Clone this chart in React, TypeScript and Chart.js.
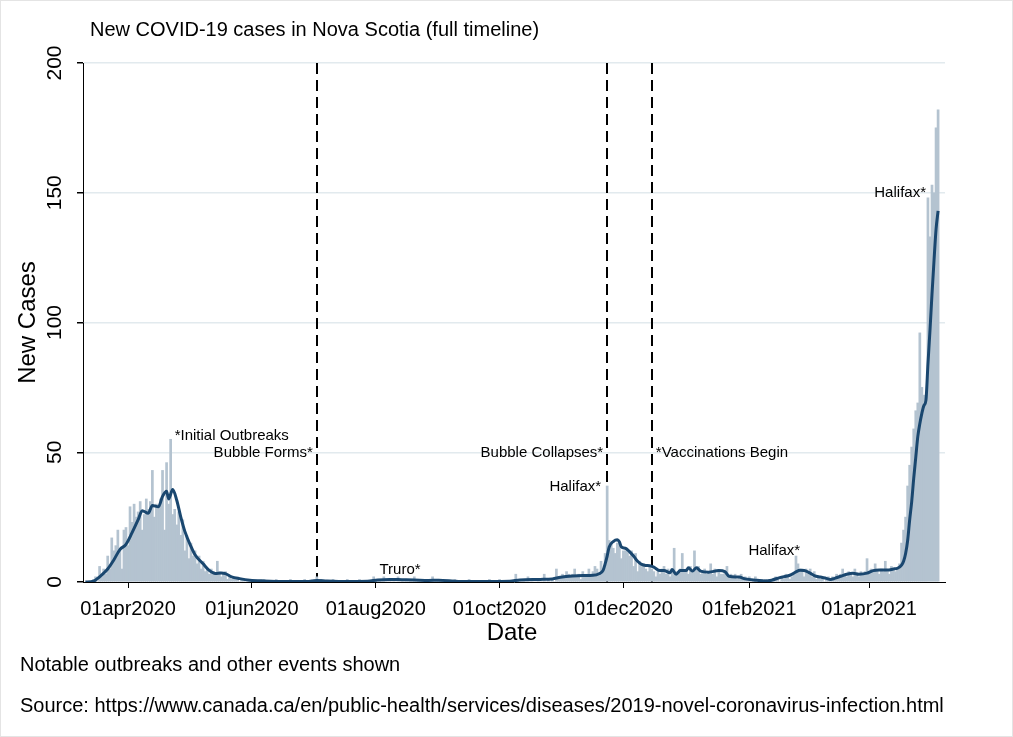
import React, { useEffect, useRef } from 'react';
import { Chart, registerables } from 'chart.js';

Chart.register(...registerables);

// ---------------- data ----------------
const START_DATE = '2020-03-15'; // date of dailyCases[0]

// New daily cases (one value per day from START_DATE)
const dailyCases: number[] = [
  1, 2, 0, 6, 2, 5, 3, 10, 5, 17,
  12, 14, 20, 13, 5, 20, 21, 14, 29, 23,
  30, 25, 27, 31, 20, 26, 32, 28, 31, 43,
  25, 30, 29, 32, 43, 20, 46, 30, 55, 26,
  28, 22, 27, 18, 24, 12, 18, 9, 15, 10,
  12, 7, 10, 5, 8, 4, 5, 3, 5, 4,
  3, 8, 4, 2, 3, 4, 1, 2, 1, 2,
  1, 1, 0, 1, 1, 0, 1, 0, 1, 0,
  0, 0, 0, 0, 1, 0, 0, 0, 0, 0,
  1, 0, 0, 0, 0, 0, 0, 1, 0, 0,
  0, 0, 0, 0, 1, 0, 0, 0, 0, 1,
  2, 0, 1, 0, 0, 0, 0, 0, 1, 0,
  0, 0, 0, 0, 0, 1, 0, 0, 0, 0,
  0, 1, 0, 0, 0, 0, 0, 0, 2, 1,
  0, 1, 0, 2, 0, 0, 1, 0, 1, 0,
  2, 0, 1, 0, 1, 0, 1, 0, 2, 0,
  1, 0, 0, 0, 0, 1, 0, 2, 0, 0,
  1, 0, 0, 0, 0, 0, 0, 0, 1, 0,
  0, 0, 0, 0, 0, 1, 0, 0, 0, 0,
  0, 0, 0, 0, 0, 1, 0, 0, 0, 0,
  1, 0, 0, 0, 0, 0, 0, 0, 3, 0,
  0, 0, 1, 0, 2, 0, 1, 0, 0, 1,
  0, 0, 3, 0, 1, 0, 1, 0, 5, 1,
  2, 3, 2, 4, 3, 2, 3, 5, 2, 3,
  1, 4, 2, 3, 5, 2, 4, 6, 5, 3,
  8, 5, 11, 37, 16, 15, 13, 11, 15, 15,
  9, 12, 12, 12, 10, 12, 6, 11, 4, 8,
  6, 7, 5, 4, 6, 5, 4, 2, 4, 3,
  5, 6, 3, 5, 2, 4, 13, 4, 3, 5,
  11, 4, 5, 3, 6, 4, 12, 5, 6, 3,
  4, 5, 3, 4, 7, 3, 5, 2, 4, 3,
  3, 4, 6, 2, 3, 2, 3, 1, 2, 3,
  1, 2, 1, 2, 0, 1, 2, 0, 1, 1,
  0, 1, 0, 1, 0, 1, 2, 1, 0, 2,
  1, 3, 2, 1, 2, 3, 10, 7, 5, 5,
  2, 5, 3, 5, 2, 4, 1, 2, 1, 2,
  0, 1, 2, 1, 2, 1, 3, 2, 3, 5,
  3, 2, 4, 3, 2, 5, 3, 2, 4, 3,
  4, 9, 3, 5, 4, 7, 4, 3, 5, 4,
  8, 4, 3, 6, 5, 4, 5, 7, 15, 20,
  25, 37, 45, 52, 59, 66, 69, 96, 75, 72,
  71, 148, 133, 153, 150, 175, 182,
];

// Smoothed (average) line: day offsets from START_DATE and values
const avgDays: number[] = [
  -4, 0, 3, 7, 10, 13, 16, 19, 22, 24, 27, 29, 32, 34, 36, 37, 39, 41, 43, 45, 48,
  50, 54, 57, 60, 63, 65, 68, 72, 77, 84, 95, 105, 110, 115, 125, 135, 140, 146, 152, 158,
  165, 170, 180, 195, 205, 210, 220, 226, 230, 236, 241, 246, 249, 251, 252, 253, 254, 256, 258, 259,
  260, 262, 264, 266, 268, 270, 272, 274, 276, 279, 281, 284, 285, 287, 289, 292, 293, 295, 297, 299,
  303, 308, 311, 313, 318, 321, 326, 331, 334, 338, 343, 346, 348, 350, 353, 355, 358, 361, 363, 365,
  368, 371, 374, 377, 381, 384, 387, 391, 394, 396, 398, 399, 400, 401, 402, 403, 404, 405, 406, 407,
  408, 409, 410, 411, 412, 413, 414, 415, 416,
];
const avgValues: number[] = [
  0, 0.3, 2, 5, 8.5, 12.5, 14.5, 19, 24, 27.5, 26.5, 29.5, 29, 33, 35, 32, 35.6, 31.5, 25, 19.5, 13.7,
  10.5, 7, 4.5, 3.3, 3.5, 3.2, 2, 1.3, 0.7, 0.4, 0.2, 0.2, 0.6, 0.4, 0.2, 0.3, 0.8, 1, 0.9, 0.8,
  0.6, 0.7, 0.2, 0.2, 0.3, 0.8, 1, 1.2, 1.8, 2.3, 2.5, 2.6, 3.2, 4.5, 7, 10, 13.5, 15.6, 16.3, 15.5,
  13.5, 13, 11.7, 10, 8, 6.8, 6.4, 6.3, 5.7, 4.4, 4.4, 3.6, 4.8, 3, 4.4, 4.4, 5.5, 4.2, 5.5, 4.2,
  3.8, 4.4, 4, 2.2, 1.9, 1.2, 0.7, 0.4, 0.7, 1.7, 2.6, 3.9, 4.5, 4.4, 3.4, 2.5, 1.9, 1.4, 1, 1.4,
  2.2, 3, 3.4, 3, 3.4, 4.4, 4.6, 4.6, 5, 5.3, 6.5, 8, 11, 16, 24, 31, 40, 48, 56, 61,
  65, 68, 70, 84, 97, 111, 124, 136, 143,
];

const xTickDates = ['2020-04-01', '2020-06-01', '2020-08-01', '2020-10-01', '2020-12-01', '2021-02-01', '2021-04-01'];
const xTickLabels = ['01apr2020', '01jun2020', '01aug2020', '01oct2020', '01dec2020', '01feb2021', '01apr2021'];
const yTickValues = [0, 50, 100, 150, 200];

const eventDates = ['2020-07-03', '2020-11-23', '2020-12-15'];

const noteTexts = [
  'Notable outbreaks and other events shown',
  'Source: https://www.canada.ca/en/public-health/services/diseases/2019-novel-coronavirus-infection.html',
];

type Note = { text: string; date: string; y: number; place: 'e' | 'w' | 'c' };
const eventLabels: Note[] = [
  { text: '*Initial Outbreaks', date: '2020-04-22', y: 56.5, place: 'e' },
  { text: 'Bubble Forms*', date: '2020-07-03', y: 49.7, place: 'w' },
  { text: 'Truro*', date: '2020-08-13', y: 4.6, place: 'c' },
  { text: 'Bubble Collapses*', date: '2020-11-23', y: 49.7, place: 'w' },
  { text: 'Halifax*', date: '2020-11-22', y: 36.6, place: 'w' },
  { text: '*Vaccinations Begin', date: '2020-12-15', y: 49.7, place: 'e' },
  { text: 'Halifax*', date: '2021-02-28', y: 11.9, place: 'w' },
  { text: 'Halifax*', date: '2021-05-01', y: 150, place: 'w' },
];

// ---------------- helpers / styles ----------------
const FONT = "'Liberation Sans', Arial, Helvetica, sans-serif";
const NAVY = '#1a476f';
const BAR = 'rgb(180,195,208)';
const GRID = 'rgb(226,234,238)';

function dayIndex(d: string): number {
  return Math.round((Date.parse(d) - Date.parse(START_DATE)) / 86400000);
}

const textPlugin = {
  id: 'stataText',
  beforeDatasetsDraw(chart: any) {
    const { ctx, chartArea, scales } = chart;
    ctx.save();
    ctx.strokeStyle = '#000';
    ctx.lineWidth = 2;
    ctx.setLineDash([11, 6]);
    eventDates.forEach((d) => {
      const x = Math.round(scales.x.getPixelForValue(dayIndex(d)));
      ctx.beginPath();
      ctx.moveTo(x, chartArea.top);
      ctx.lineTo(x, chartArea.bottom);
      ctx.stroke();
    });
    ctx.restore();
  },
  afterDraw(chart: any) {
    const { ctx, chartArea, scales, width, height } = chart;
    ctx.save();
    ctx.fillStyle = '#000';

    // faint outer frame
    ctx.strokeStyle = '#e4e4e4';
    ctx.lineWidth = 1;
    ctx.strokeRect(0.5, 0.5, width - 1, height - 1);

    // title
    ctx.font = `20px ${FONT}`;
    ctx.textAlign = 'left';
    ctx.textBaseline = 'middle';
    ctx.fillText('New COVID-19 cases in Nova Scotia (full timeline)', 90, 30);

    // y tick labels (rotated)
    ctx.font = `21px ${FONT}`;
    ctx.textAlign = 'center';
    ctx.textBaseline = 'middle';
    scales.y.ticks.forEach((t: any) => {
      const py = scales.y.getPixelForValue(t.value);
      ctx.save();
      ctx.translate(55, py);
      ctx.rotate(-Math.PI / 2);
      ctx.fillText(String(t.value), 0, 0);
      ctx.restore();
    });

    // axis titles
    ctx.font = `24px ${FONT}`;
    ctx.save();
    ctx.translate(28, (chartArea.top + chartArea.bottom) / 2);
    ctx.rotate(-Math.PI / 2);
    ctx.fillText('New Cases', 0, 0);
    ctx.restore();
    ctx.fillText('Date', (chartArea.left + chartArea.right) / 2 - 2, 633);

    // notes
    ctx.font = `20px ${FONT}`;
    ctx.textAlign = 'left';
    ctx.fillText(noteTexts[0], 20, 665);
    ctx.fillText(noteTexts[1], 20, 706);

    // event labels
    ctx.font = `15px ${FONT}`;
    eventLabels.forEach((n) => {
      const x = scales.x.getPixelForValue(dayIndex(n.date));
      const y = scales.y.getPixelForValue(n.y);
      if (n.place === 'e') {
        ctx.textAlign = 'left';
        ctx.fillText(n.text, x + 4, y);
      } else if (n.place === 'w') {
        ctx.textAlign = 'right';
        ctx.fillText(n.text, x - 4, y);
      } else {
        ctx.textAlign = 'center';
        ctx.fillText(n.text, x, y);
      }
    });
    ctx.restore();
  },
};

export default function App() {
  const canvasRef = useRef<HTMLCanvasElement | null>(null);

  useEffect(() => {
    document.body.style.margin = '0';
    document.body.style.overflow = 'hidden';
    const canvas = canvasRef.current;
    if (!canvas) return;

    const xTickValues = xTickDates.map(dayIndex);

    const chart = new Chart(canvas, {
      type: 'bar',
      data: {
        datasets: [
          {
            type: 'line',
            data: avgDays.map((d, k) => ({ x: d, y: avgValues[k] })),
            borderColor: NAVY,
            borderWidth: 3,
            pointRadius: 0,
            cubicInterpolationMode: 'monotone',
            order: 0,
          } as any,
          {
            type: 'bar',
            data: dailyCases.map((v, i) => ({ x: i, y: v })),
            backgroundColor: BAR,
            borderWidth: 0,
            barPercentage: 1,
            categoryPercentage: 1,
            order: 1,
          } as any,
        ],
      },
      options: {
        responsive: false,
        animation: false,
        events: [],
        layout: { padding: { left: 0, right: 68, top: 63, bottom: 115 } },
        plugins: {
          legend: { display: false },
          tooltip: { enabled: false },
          title: { display: false },
        },
        scales: {
          x: {
            type: 'linear',
            min: -5.17,
            max: 419.4,
            offset: false,
            afterBuildTicks: (s: any) => {
              s.ticks = xTickValues.map((v) => ({ value: v }));
            },
            afterFit: (s: any) => {
              s.height = 40;
            },
            ticks: {
              autoSkip: false,
              maxRotation: 0,
              minRotation: 0,
              padding: 9,
              color: '#000',
              font: { family: FONT, size: 20 },
              callback: (v: any) => {
                const k = xTickValues.indexOf(Number(v));
                return k >= 0 ? xTickLabels[k] : '';
              },
            },
            grid: {
              offset: false,
              drawOnChartArea: false,
              drawTicks: true,
              tickLength: 6,
              tickColor: '#000',
              color: '#000',
            },
            border: { color: '#000', width: 1 },
          },
          y: {
            type: 'linear',
            min: 0,
            max: 200,
            afterBuildTicks: (s: any) => {
              s.ticks = yTickValues.map((v) => ({ value: v }));
            },
            afterFit: (s: any) => {
              s.width = 83;
            },
            ticks: { display: false },
            grid: {
              offset: false,
              color: (c: any) => (c.tick && c.tick.value === 0 ? 'rgba(0,0,0,0)' : GRID),
              lineWidth: 1.5,
              drawTicks: true,
              tickLength: 6,
              tickColor: '#000',
            },
            border: { color: '#000', width: 1 },
          },
        },
      },
      plugins: [textPlugin],
    } as any);

    return () => chart.destroy();
  }, []);

  return (
    <canvas
      ref={canvasRef}
      width={1013}
      height={737}
      style={{ display: 'block', width: 1013, height: 737, background: '#fff' }}
    />
  );
}
